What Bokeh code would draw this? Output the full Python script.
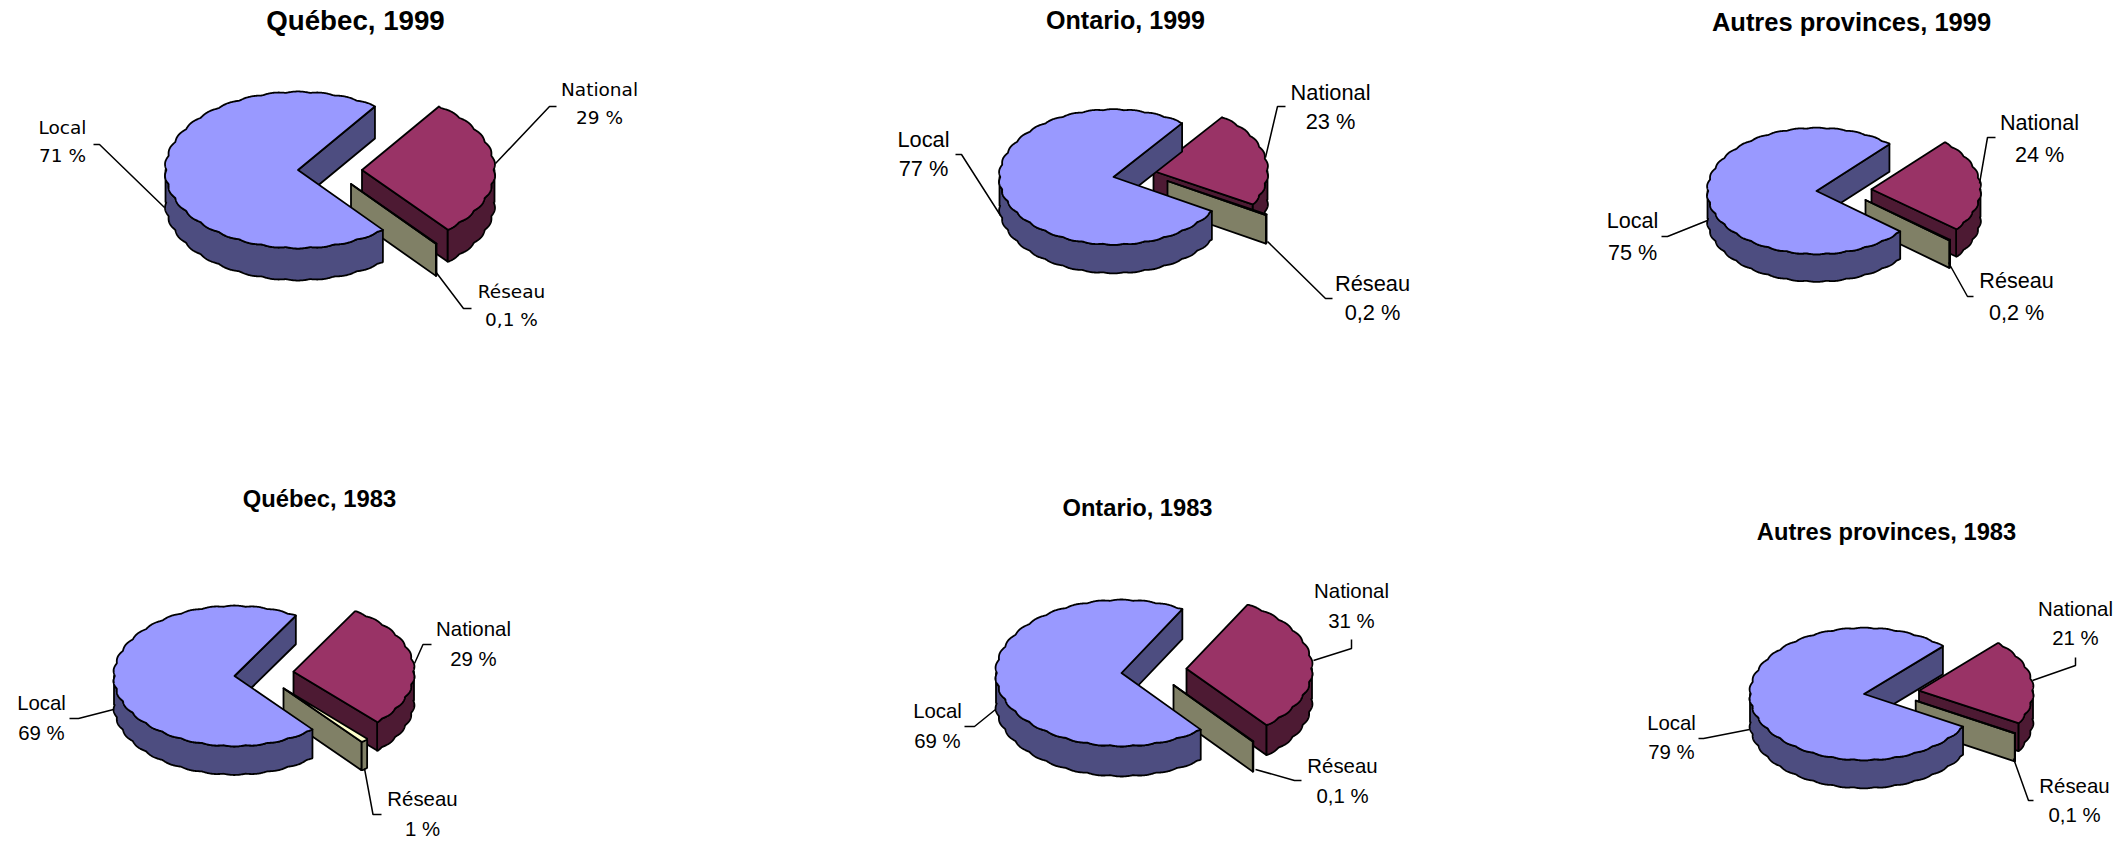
import numpy as np
from bokeh.plotting import figure
from bokeh.models import Range1d
from bokeh.core.properties import value
from bokeh.embed import file_html
from bokeh.resources import INLINE

# ---- data ----
categories = ["Local", "National", "Réseau"]
quebec_1999 = [71, 29, 0.1]
ontario_1999 = [77, 23, 0.2]
autres_1999 = [75, 24, 0.2]
quebec_1983 = [69, 29, 1]
ontario_1983 = [69, 31, 0.1]
autres_1983 = [79, 21, 0.1]
label_quebec_1999 = ["71 %", "29 %", "0,1 %"]
label_ontario_1999 = ["77 %", "23 %", "0,2 %"]
label_autres_1999 = ["75 %", "24 %", "0,2 %"]
label_quebec_1983 = ["69 %", "29 %", "1 %"]
label_ontario_1983 = ["69 %", "31 %", "0,1 %"]
label_autres_1983 = ["79 %", "21 %", "0,1 %"]

TOP = {"Local": "#9999FF", "National": "#993366", "Réseau": "#FFFFCC"}
SIDE = {"Local": "#4D4D80", "National": "#4D1A33", "Réseau": "#808066"}

# ---- layout of each panel, in page pixels ----
panels = [
    dict(title="Québec, 1999", values=quebec_1999, labels=label_quebec_1999,
         c=(297.5, 169.5), r=(132.5, 78), depth=32, start=54.5, nat=(64, 0), res=(53, 14),
         tpos=(355, 20), tsize=27.7, font="DejaVu Sans", fsize=18.5, gap=28,
         lpos=[(62, 141), (599, 103), (511, 305)],
         leaders=[[(164, 207), (99, 144), (93, 144)], [(495, 163), (549, 106), (556, 106)],
                  [(435, 271), (463, 308), (471, 308)]]),
    dict(title="Ontario, 1999", values=ontario_1999, labels=label_ontario_1999,
         c=(1113, 176.5), r=(114, 67.5), depth=28.5, start=53, nat=(40, -6), res=(54, 4),
         tpos=(1125, 19.5), tsize=25.1, font="Liberation Sans", fsize=21.8, gap=29,
         lpos=[(923, 153), (1330, 106.5), (1372, 297.5)],
         leaders=[[(1000, 215), (961, 154), (955, 154)], [(1265, 157), (1277, 106), (1285, 106)],
                  [(1267, 241), (1325, 298), (1332, 298)]]),
    dict(title="Autres provinces, 1999", values=autres_1999, labels=label_autres_1999,
         c=(1816, 190.5), r=(109, 63), depth=27.5, start=48, nat=(55, -1.7), res=(49, 9),
         tpos=(1851, 21), tsize=25.5, font="Liberation Sans", fsize=21.6, gap=31.5,
         lpos=[(1632, 236), (2039, 138), (2016, 296)],
         leaders=[[(1707, 220), (1667, 236), (1661, 236)], [(1979, 183), (1987, 137), (1995, 137)],
                  [(1948, 262), (1967, 296), (1973, 296)]]),
    dict(title="Québec, 1983", values=quebec_1983, labels=label_quebec_1983,
         c=(234, 675.5), r=(120.5, 70), depth=28.5, start=59.4, nat=(59, -4.3), res=(49, 12.3),
         tpos=(319, 497.5), tsize=23.8, font="Liberation Sans", fsize=20.4, gap=30,
         lpos=[(41, 717), (473, 643), (422, 813.5)],
         leaders=[[(113, 709), (78, 718), (69, 718)], [(414, 663), (422.5, 644), (431, 644)],
                  [(364, 768), (372.5, 814), (381, 814)]]),
    dict(title="Ontario, 1983", values=ontario_1983, labels=label_ontario_1983,
         c=(1121, 672.5), r=(125.5, 73), depth=30, start=61, nat=(65, -4.3), res=(52, 12),
         tpos=(1137, 507.5), tsize=23.7, font="Liberation Sans", fsize=20.4, gap=30,
         lpos=[(937, 725), (1351, 605), (1342, 780)],
         leaders=[[(995, 709), (974, 726), (964, 726)], [(1313, 660), (1351, 648), (1351, 639)],
                  [(1255, 769), (1294, 780), (1301, 780)]]),
    dict(title="Autres provinces, 1983", values=autres_1983, labels=label_autres_1983,
         c=(1863.5, 693.5), r=(114, 66), depth=28, start=46.2, nat=(55, -3.3), res=(51.7, 6.7),
         tpos=(1886, 531.5), tsize=23.7, font="Liberation Sans", fsize=20.4, gap=29.5,
         lpos=[(1671, 737), (2075, 623), (2074, 800)],
         leaders=[[(1749, 729), (1703, 738), (1698, 738)], [(2032, 680), (2075, 665), (2075, 657)],
                  [(2013, 758), (2028, 800), (2033, 800)]]),
]


def rim(cx, cy, rx, ry, t0, t1):
    """Outer edge of a slice in the tilted circle, with the faint scallops of the original."""
    n = max(2, int(abs(t1 - t0) * 3) + 1)
    t = np.radians(np.linspace(t0, t1, n))
    bump = 1 + 0.014 * (np.abs(np.sin(17 * t)) - 0.5)
    return cx + rx * bump * np.cos(t), cy - ry * bump * np.sin(t)


def exact_ends(x, y, cx, cy, rx, ry, t0, t1):
    x, y = x.copy(), y.copy()
    x[0], y[0] = cx + rx * np.cos(np.radians(t0)), cy - ry * np.sin(np.radians(t0))
    x[-1], y[-1] = cx + rx * np.cos(np.radians(t1)), cy - ry * np.sin(np.radians(t1))
    return x, y


pxs, pys, fills = [], [], []


def add(xs, ys, color):
    pxs.append(list(map(float, xs)))
    pys.append(list(map(float, ys)))
    fills.append(color)


def draw_slice(name, cx, cy, rx, ry, depth, t0, t1):
    # outer wall, only where it faces the viewer
    for k in (-1, 0, 1):
        a, b = max(t0, 180 + 360 * k), min(t1, 360 + 360 * k)
        if b > a:
            x, y = rim(cx, cy, rx, ry, a, b)
            x, y = exact_ends(x, y, cx, cy, rx, ry, a, b)
            add(np.r_[x, x[::-1]], np.r_[y, y[::-1] + depth], SIDE[name])
    # cut faces
    for t, visible in ((t0, np.cos(np.radians(t0)) > 0), (t1, np.cos(np.radians(t1)) < 0)):
        if visible:
            ex = cx + rx * np.cos(np.radians(t))
            ey = cy - ry * np.sin(np.radians(t))
            add([cx, ex, ex, cx], [cy, ey, ey + depth, cy + depth], SIDE[name])
    # top
    x, y = rim(cx, cy, rx, ry, t0, t1)
    x, y = exact_ends(x, y, cx, cy, rx, ry, t0, t1)
    add(np.r_[cx, x], np.r_[cy, y], TOP[name])


p = figure(width=2127, height=843, x_range=Range1d(0, 2127), y_range=Range1d(843, 0),
           output_backend="svg", toolbar_location=None, min_border=0)
p.axis.visible = False
p.grid.visible = False
p.outline_line_color = None

for pan in panels:
    vals = dict(zip(categories, pan["values"]))
    total = sum(pan["values"])
    cx, cy = pan["c"]
    rx, ry = pan["r"]
    s = pan["start"]
    t_local = s + 360 * vals["Local"] / total
    t_res = t_local + 360 * vals["Réseau"] / total
    t_nat = s + 360
    draw_slice("National", cx + pan["nat"][0], cy + pan["nat"][1], rx, ry, pan["depth"], t_res - 360, t_nat - 360)
    draw_slice("Réseau", cx + pan["res"][0], cy + pan["res"][1], rx, ry, pan["depth"], t_local - 360, t_res - 360)
    draw_slice("Local", cx, cy, rx, ry, pan["depth"], s, t_local)

p.patches(pxs, pys, fill_color=fills, line_color="black", line_width=1.8, line_join="round")

lx, ly = [], []
for pan in panels:
    for leader in pan["leaders"]:
        lx.append([q[0] for q in leader])
        ly.append([q[1] for q in leader])
p.multi_line(lx, ly, line_color="black", line_width=1.5)

for pan in panels:
    p.text([pan["tpos"][0]], [pan["tpos"][1]], text=[pan["title"]],
           text_font=value("Liberation Sans"), text_font_style="bold",
           text_font_size=f'{pan["tsize"]}px', text_align="center", text_baseline="middle",
           text_color="black")
    tx, ty, tt = [], [], []
    for cat, lab, (x, y) in zip(categories, pan["labels"], pan["lpos"]):
        tx += [x, x]
        ty += [y - pan["gap"] / 2, y + pan["gap"] / 2]
        tt += [cat, lab]
    p.text(tx, ty, text=tt, text_font=value(pan["font"]),
           text_font_size=f'{pan["fsize"]}px', text_align="center", text_baseline="middle",
           text_color="black")

open("out.html", "w").write(file_html(p, INLINE))
